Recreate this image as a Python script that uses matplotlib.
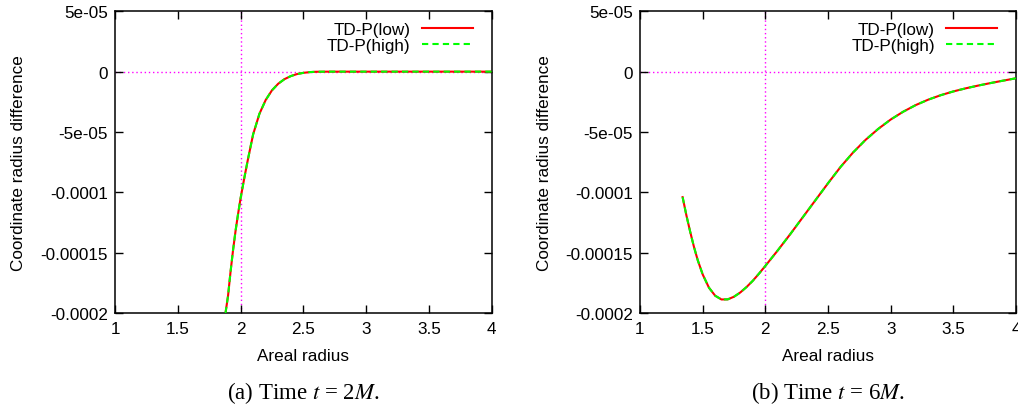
import numpy as np
import matplotlib
matplotlib.use("Agg")
import matplotlib.pyplot as plt

# values (y in units of 1e-4)
x_t2 = [1.88, 1.90, 1.92, 1.94, 1.96, 1.98, 2.0, 2.03, 2.06, 2.1, 2.15, 2.2,
        2.25, 2.3, 2.35, 2.4, 2.45, 2.5, 2.55, 2.6, 2.7, 3.0, 3.5, 4.0]
y_t2 = [-2.0, -1.86, -1.66, -1.48, -1.32, -1.18, -1.05, -0.88, -0.72, -0.52,
        -0.35, -0.235, -0.155, -0.10, -0.062, -0.037, -0.02, -0.01, -0.004,
        -0.001, 0.0, 0.0, 0.0, 0.0]

x_t6 = [1.34, 1.37, 1.40, 1.43, 1.46, 1.5, 1.55, 1.6, 1.65, 1.7, 1.75, 1.8,
        1.85, 1.9, 1.95, 2.0, 2.1, 2.2, 2.3, 2.4, 2.5, 2.6, 2.7, 2.8, 2.9, 3.0,
        3.1, 3.2, 3.3, 3.4, 3.5, 3.6, 3.7, 3.8, 3.9, 4.0]
y_t6 = [-1.04, -1.19, -1.325, -1.45, -1.56, -1.68, -1.79, -1.857, -1.888, -1.887,
        -1.865, -1.83, -1.785, -1.733, -1.673, -1.61, -1.48, -1.345, -1.205, -1.065,
        -0.925, -0.79, -0.67, -0.565, -0.475, -0.397, -0.332, -0.277, -0.232, -0.195,
        -0.164, -0.138, -0.115, -0.094, -0.074, -0.055]

yticks = [5e-05, 0, -5e-05, -1e-04, -1.5e-04, -2e-04]
ytick_labels = ["5e-05", "0", "-5e-05", "-0.0001", "-0.00015", "-0.0002"]
xticks = [1, 1.5, 2, 2.5, 3, 3.5, 4]
xtick_labels = ["1", "1.5", "2", "2.5", "3", "3.5", "4"]
captions = [r"(a) Time $t$ = 2$M$.", r"(b) Time $t$ = 6$M$."]

plt.rcParams["font.family"] = ["Liberation Sans", "DejaVu Sans"]
plt.rcParams["mathtext.fontset"] = "stix"

fig = plt.figure(figsize=(10.18, 4.10), dpi=100)
ax_left = fig.add_axes([115 / 1018, 96 / 410, 376.7 / 1018, 301.7 / 410])
ax_right = fig.add_axes([640 / 1018, 96 / 410, 376 / 1018, 301.7 / 410])

for ax, xs, ys, cap in [(ax_left, x_t2, y_t2, captions[0]),
                        (ax_right, x_t6, y_t6, captions[1])]:
    ys = np.array(ys) * 1e-4
    ax.axvline(2, color="#ff00ff", ls=(0, (1, 2)), lw=1.0, zorder=1)
    ax.axhline(0, color="#ff00ff", ls=(0, (1, 2)), lw=1.0, zorder=1)
    ax.plot(xs, ys, color="#ff0000", lw=1.5, label="TD-P(low)", zorder=2)
    ax.plot(xs, ys, color="#00ff00", lw=1.5, ls=(0, (3, 2)), label="TD-P(high)", zorder=3)

    ax.set_xlim(1, 4)
    ax.set_ylim(-2e-4, 5e-5)
    ax.set_xticks(xticks)
    ax.set_xticklabels(xtick_labels)
    ax.set_yticks(yticks)
    ax.set_yticklabels(ytick_labels)
    ax.tick_params(direction="in", length=6, width=1, labelsize=12.3,
                   top=True, right=True)
    ax.tick_params(axis="x", pad=6)
    ax.tick_params(axis="y", pad=5)
    for sp in ax.spines.values():
        sp.set_linewidth(1.1)

    ax.set_xlabel("Areal radius", fontsize=12.3)
    ax.xaxis.set_label_coords(0.5, -0.115)
    ax.set_ylabel("Coordinate radius difference", fontsize=12.3)
    ax.yaxis.set_label_coords(-0.235, 0.5)

    ax.legend(loc="upper right", bbox_to_anchor=(0.95, 0.965), frameon=False,
              markerfirst=False, fontsize=12.3, handlelength=3.0,
              handletextpad=0.65, labelspacing=0.05, borderpad=0, borderaxespad=0)

    pos = ax.get_position()
    fig.text(pos.x0 + pos.width / 2, 1 - 393 / 410, cap, ha="center", va="center",
             fontsize=16.5, family=["Liberation Serif", "DejaVu Serif"])

fig.savefig("out.png", dpi=100)
